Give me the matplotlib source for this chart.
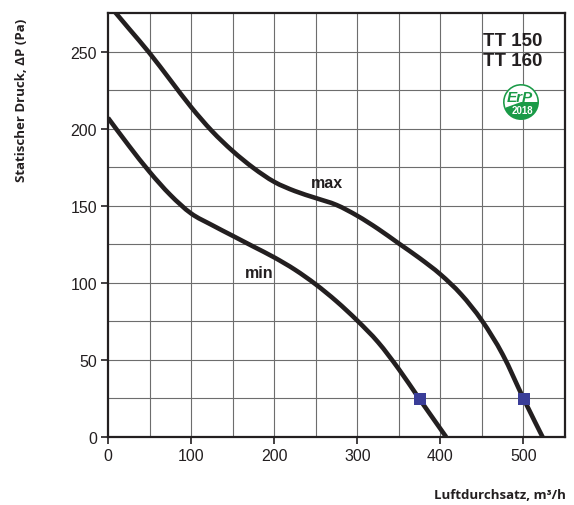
import matplotlib
matplotlib.use("Agg")
import matplotlib.pyplot as plt
from matplotlib.patches import Circle, Wedge, PathPatch
from matplotlib.path import Path

# Data
max_x = [0, 25, 50, 75, 100, 125, 150, 175, 200, 225, 250, 275, 300, 325, 350, 375, 400, 425, 450, 475, 500, 523]
max_y = [281, 265, 249, 231.5, 214, 198.5, 185.5, 174.5, 165.5, 159.5, 155, 150.5, 143.5, 135, 125.5, 116, 105.5, 92.5, 75.5, 53.5, 25, 0]
min_x = [0, 25, 50, 75, 100, 125, 150, 175, 200, 225, 250, 275, 300, 325, 350, 375, 407]
min_y = [207, 189, 172, 157, 145, 137.5, 130.5, 123.5, 116.5, 108.5, 99, 88, 75.5, 61.5, 44, 24.5, 0]
point_x = [375, 501]
point_y = [24.5, 24.5]
x_ticks = [0, 100, 200, 300, 400, 500]
y_ticks = [0, 50, 100, 150, 200, 250]


def smooth_path(xs, ys, t=1/6):
    """Catmull-Rom curve through the given points, as cubic Bezier path."""
    pts = list(zip(xs, ys))
    verts = [pts[0]]
    codes = [Path.MOVETO]
    n = len(pts)
    for i in range(n - 1):
        p0 = pts[i - 1] if i > 0 else pts[i]
        p1 = pts[i]
        p2 = pts[i + 1]
        p3 = pts[i + 2] if i + 2 < n else pts[i + 1]
        c1 = (p1[0] + (p2[0] - p0[0]) * t, p1[1] + (p2[1] - p0[1]) * t)
        c2 = (p2[0] - (p3[0] - p1[0]) * t, p2[1] - (p3[1] - p1[1]) * t)
        verts += [c1, c2, p2]
        codes += [Path.CURVE4] * 3
    return Path(verts, codes)


fig = plt.figure(figsize=(5.74, 5.06), dpi=100)
ax = fig.add_axes([108/574, 1 - 438/506, (565-108)/574, (438-14)/506])
ax.set_xlim(0, 550)
ax.set_ylim(0, 275)

# grid
for gx in range(50, 550, 50):
    ax.axvline(gx, color="#6d6d6d", lw=0.8, zorder=1)
for gy in range(25, 275, 25):
    ax.axhline(gy, color="#6d6d6d", lw=0.8, zorder=1)

dark = "#231f20"
for xs, ys in ((max_x, max_y), (min_x, min_y)):
    ax.add_patch(PathPatch(smooth_path(xs, ys), facecolor="none", edgecolor=dark,
                           lw=3.3, capstyle="butt", zorder=3))
ax.scatter(point_x, point_y, marker="s", s=72, color="#3a3d98", zorder=4, linewidths=0)

ax.set_xticks(x_ticks)
ax.set_yticks(y_ticks)
tf = dict(family="Liberation Sans", size=11.5)
ax.set_xticklabels([str(v) for v in x_ticks], **tf, color=dark)
ax.set_yticklabels([str(v) for v in y_ticks], **tf, color=dark)
ax.tick_params(direction="out", length=5, width=1.2, color=dark, pad=3)
for s in ax.spines.values():
    s.set_linewidth(1.6)
    s.set_color(dark)

ax.text(264, 165, "max", ha="center", va="center", fontsize=11.5, fontweight="bold",
        family="Liberation Sans", color=dark, zorder=5)
ax.text(182, 107, "min", ha="center", va="center", fontsize=11.5, fontweight="bold",
        family="Liberation Sans", color=dark, zorder=5)

fig.text(513/574, 1 - 42/506, "TT 150", ha="center", va="center", fontsize=13.5,
         fontweight="bold", family="Liberation Sans", color=dark)
fig.text(513/574, 1 - 62/506, "TT 160", ha="center", va="center", fontsize=13.5,
         fontweight="bold", family="Liberation Sans", color=dark)

# ErP badge
cx, cy = 521, 103
lax = fig.add_axes([(cx - 20)/574, 1 - (cy + 20)/506, 40/574, 40/506])
lax.set_xlim(-20, 20)
lax.set_ylim(-20, 20)
lax.axis("off")
green = "#1a9a47"
lax.add_patch(Circle((0, 0), 17.5, facecolor="white", edgecolor="none", zorder=1))
lax.add_patch(Wedge((0, 0), 18, 20, 200, width=1.6, facecolor=green, edgecolor="none", zorder=2))
lax.add_patch(Wedge((0, 0), 18, 200, 360, facecolor=green, edgecolor="none", zorder=2))
lax.add_patch(Wedge((0, 0), 18, 0, 20, width=1.6, facecolor=green, edgecolor="none", zorder=2))
lax.text(-1, 5.5, "ErP", ha="center", va="center", fontsize=11, fontweight="bold",
         style="italic", color=green, family="Liberation Sans", zorder=3)
lax.text(1, -7.5, "2018", ha="center", va="center", fontsize=7, fontweight="bold",
         color="white", family="Liberation Sans", zorder=3)

fig.text(22/574, 1 - 100/506, "Statischer Druck, ΔP (Pa)", rotation=90, ha="center",
         va="center", fontsize=9.5, fontweight="bold", family="Open Sans", color=dark)
fig.text(566/574, 1 - 496/506, "Luftdurchsatz, m³/h", ha="right", va="center",
         fontsize=9.5, fontweight="bold", family="Open Sans", color=dark)

fig.savefig("out.png", dpi=100)
